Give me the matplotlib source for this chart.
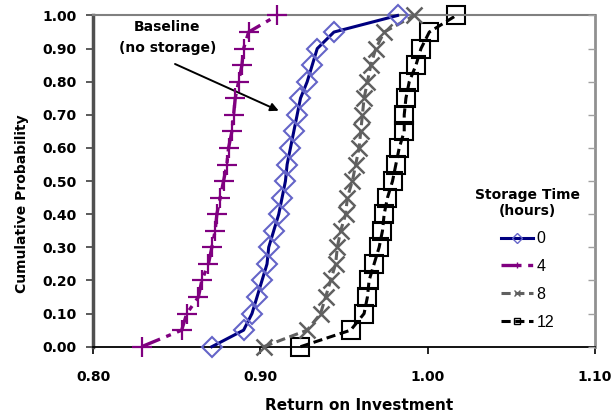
import matplotlib
matplotlib.use("Agg")
import matplotlib.pyplot as plt
import numpy as np

plt.rcParams['font.family'] = ['DejaVu Sans']

prob = [0.00, 0.05, 0.10, 0.15, 0.20, 0.25, 0.30, 0.35, 0.40, 0.45, 0.50,
        0.55, 0.60, 0.65, 0.70, 0.75, 0.80, 0.85, 0.90, 0.95, 1.00]

roi_0h = [0.871, 0.890, 0.895, 0.898, 0.901, 0.904, 0.905, 0.908, 0.911, 0.913, 0.915,
          0.916, 0.918, 0.920, 0.922, 0.924, 0.928, 0.931, 0.934, 0.944, 0.982]
roi_4h = [0.829, 0.853, 0.856, 0.863, 0.865, 0.869, 0.871, 0.873, 0.874, 0.876, 0.878,
          0.880, 0.881, 0.883, 0.884, 0.885, 0.887, 0.889, 0.890, 0.893, 0.910]
roi_8h = [0.902, 0.928, 0.936, 0.939, 0.942, 0.945, 0.946, 0.948, 0.951, 0.952, 0.955,
          0.957, 0.959, 0.960, 0.961, 0.962, 0.964, 0.966, 0.969, 0.974, 0.992]
roi_12h = [0.924, 0.954, 0.962, 0.964, 0.965, 0.968, 0.971, 0.973, 0.974, 0.976, 0.979,
           0.981, 0.983, 0.986, 0.986, 0.987, 0.989, 0.993, 0.996, 1.001, 1.017]

series_labels = ['0', '4', '8', '12']
x_ticks = [0.80, 0.90, 1.00, 1.10]
y_ticks = [0.0, 0.1, 0.2, 0.3, 0.4, 0.5, 0.6, 0.7, 0.8, 0.9, 1.0]

fig = plt.figure(figsize=(6.14, 4.13), dpi=100)
ax = fig.add_axes([0.1515, 0.1605, 0.8175, 0.802])

ax.plot(roi_0h, prob, color='#000080', lw=2.2, marker='D', ms=10, mfc='none',
        mec='#6464C8', mew=1.5, label=series_labels[0], clip_on=False, zorder=5)
ax.plot(roi_4h, prob, color='#800080', lw=2.4, ls=(0, (6, 2, 1.5, 2)), marker='+', ms=14,
        mec='#800080', mew=1.6, label=series_labels[1], clip_on=False, zorder=4)
ax.plot(roi_8h, prob, color='#606060', lw=2.2, ls=(0, (3, 1.5)), marker='x', ms=11,
        mec='#606060', mew=1.8, label=series_labels[2], clip_on=False, zorder=3)
ax.plot(roi_12h, prob, color='#000000', lw=2.2, ls=(0, (3, 1.5)), marker='s', ms=13,
        mfc='none', mec='#000000', mew=1.5, label=series_labels[3], clip_on=False, zorder=2)

ax.set_xlim(0.80, 1.10)
ax.set_ylim(0.0, 1.0)
ax.set_xticks(x_ticks)
ax.set_xticklabels([f"{v:.2f}" for v in x_ticks], fontsize=10, fontweight='bold')
ax.set_yticks(y_ticks)
ax.set_yticklabels([f"{v:.2f}" for v in y_ticks], fontsize=10, fontweight='bold')
ax.tick_params(axis='x', direction='out', length=5, width=1.2, color='black', pad=12)
ax.tick_params(axis='y', direction='out', length=5, width=1.2, color='#404040', pad=7)

ax.spines['left'].set_color('#505050')
ax.spines['left'].set_linewidth(2.5)
ax.spines['bottom'].set_color('black')
ax.spines['bottom'].set_linewidth(1.3)
ax.spines['top'].set_color('#808080')
ax.spines['top'].set_linewidth(1.5)
ax.spines['right'].set_color('#909090')
ax.spines['right'].set_linewidth(2.0)

ax2 = ax.twinx()
ax2.set_ylim(0.0, 1.0)
ax2.set_yticks(y_ticks)
ax2.set_yticklabels([])
ax2.tick_params(axis='y', direction='in', length=5, width=1.0, color='#a0a0a0')
for s in ax2.spines.values():
    s.set_visible(False)

ax.set_xlabel('Return on Investment', fontsize=11, fontweight='bold')
ax.set_ylabel('Cumulative Probability', fontsize=10, fontweight='bold')
ax.xaxis.set_label_coords(0.530, -0.176)
ax.yaxis.set_label_coords(-0.141, 0.431)
ax.xaxis.label.set_va('center')
ax.yaxis.label.set_va('center')

ax.text(0.8440, 0.965, 'Baseline', ha='center', va='center', fontsize=10, fontweight='bold')
ax.text(0.8445, 0.902, '(no storage)', ha='center', va='center', fontsize=10, fontweight='bold')
ax.annotate('', xy=(0.9125, 0.709), xytext=(0.8475, 0.857),
            arrowprops=dict(arrowstyle='-|>', color='black', lw=1.4, mutation_scale=12))

leg = ax.legend(title='Storage Time\n(hours)', loc='center left',
                bbox_to_anchor=(0.733, 0.265), frameon=False,
                prop={'family': 'Liberation Sans', 'size': 11.5},
                handlelength=2.0, handletextpad=0.2, labelspacing=0.8)
plt.setp(leg.get_title(), fontweight='bold', fontsize=10, multialignment='center')
leg._legend_box.align = 'center'
for h in leg.legend_handles:
    h.set_markersize(5)
    h.set_markeredgewidth(1.0)

fig.savefig('out.png', dpi=100)
